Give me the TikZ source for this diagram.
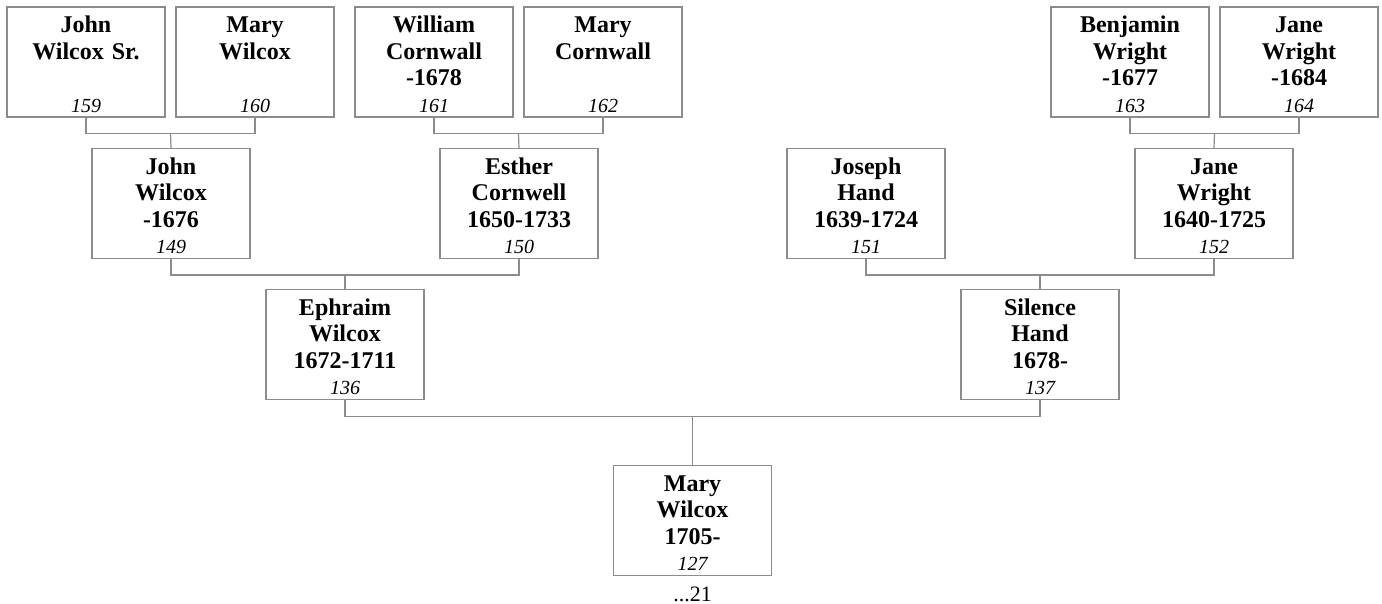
\documentclass[tikz,border=0pt]{standalone}
\usepackage{fontspec}
\setmainfont{Liberation Serif}
\usepackage{tikz}
\usetikzlibrary{positioning,calc}
\definecolor{linegray}{RGB}{140,140,140}
\newcommand{\idnum}[1]{{\mdseries\itshape\fontsize{20}{26.5}\selectfont #1}}

\begin{document}
\begin{tikzpicture}[
    x=1pt, y=-1pt,
    person/.style={rectangle, draw=linegray, line width=1.2pt, fill=white, minimum width=158pt, minimum height=110pt, text width=156pt, align=center, inner sep=0pt, font=\fontsize{24}{26.5}\selectfont\bfseries, execute at begin node=\rule{0pt}{21pt}},
    link/.style={draw=linegray, line width=1.2pt}
]
    \useasboundingbox (0,0) rectangle (1382,604);

    \node[person] (p159) at (86, 62) {John\\Wilcox Sr.\\\mbox{}\\\idnum{159}};
    \node[person] (p160) at (255, 62) {Mary\\Wilcox\\\mbox{}\\\idnum{160}};
    \node[person] (p161) at (434, 62) {William\\Cornwall\\-1678\\\idnum{161}};
    \node[person] (p162) at (603, 62) {Mary\\Cornwall\\\mbox{}\\\idnum{162}};
    \node[person] (p163) at (1130, 62) {Benjamin\\Wright\\-1677\\\idnum{163}};
    \node[person] (p164) at (1299, 62) {Jane\\Wright\\-1684\\\idnum{164}};

    \node[person] (p149) at (171, 203.5) {John\\Wilcox\\-1676\\\idnum{149}};
    \node[person] (p150) at (519, 203.5) {Esther\\Cornwell\\1650-1733\\\idnum{150}};
    \node[person] (p151) at (866, 203.5) {Joseph\\Hand\\1639-1724\\\idnum{151}};
    \node[person] (p152) at (1214, 203.5) {Jane\\Wright\\1640-1725\\\idnum{152}};

    \node[person] (p136) at (345, 344.5) {Ephraim\\Wilcox\\1672-1711\\\idnum{136}};
    \node[person] (p137) at (1040, 344.5) {Silence\\Hand\\1678-\\\idnum{137}};

    \node[person] (p127) at (692.5, 520.5) {Mary\\Wilcox\\1705-\\\idnum{127}};
    \node[anchor=base, font=\fontsize{22}{24}\selectfont] (more) at ($(p127.south)+(0,25)$) {...21};

    \coordinate (j149) at ($(p159.south)!.5!(p160.south)+(0,16)$);
    \coordinate (j150) at ($(p161.south)!.5!(p162.south)+(0,16)$);
    \coordinate (j152) at ($(p163.south)!.5!(p164.south)+(0,16)$);
    \coordinate (j136) at ($(p149.south)!.5!(p150.south)+(0,16)$);
    \coordinate (j137) at ($(p151.south)!.5!(p152.south)+(0,16)$);
    \coordinate (j127) at ($(p136.south)!.5!(p137.south)+(0,16)$);

    \draw[link] (p159.south) |- (j149) -| (p160.south);
    \draw[link] (j149) -- (p149.north);
    \draw[link] (p161.south) |- (j150) -| (p162.south);
    \draw[link] (j150) -- (p150.north);
    \draw[link] (p163.south) |- (j152) -| (p164.south);
    \draw[link] (j152) -- (p152.north);

    \draw[link] (p149.south) |- (j136) -| (p150.south);
    \draw[link] (j136) -- (p136.north);
    \draw[link] (p151.south) |- (j137) -| (p152.south);
    \draw[link] (j137) -- (p137.north);

    \draw[link] (p136.south) |- (j127) -| (p137.south);
    \draw[link] (j127) -- (p127.north);
\end{tikzpicture}
\end{document}
